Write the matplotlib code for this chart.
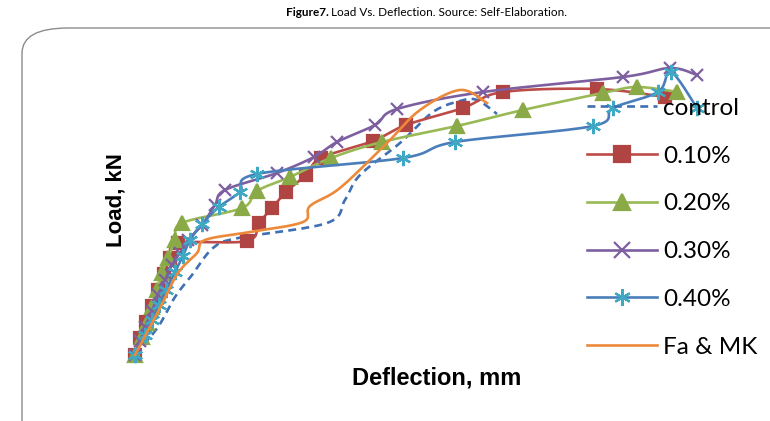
import numpy as np
import matplotlib.pyplot as plt
from matplotlib.patches import FancyBboxPatch

# deflection (mm) / load (kN)
ctrl_d = [0, 2.3, 4.0, 5.7, 7.8, 10.3, 19.2, 21.0, 22.5, 26.5, 29.8, 32.5, 34.2, 36.2]
ctrl_p = [0, 14, 29, 40, 53.5, 58.5, 66, 77.5, 90, 106, 121.5, 127, 127.5, 120.5]

p10_d = [0, 0.5, 1.1, 1.7, 2.3, 2.9, 3.5, 4.3, 11.2, 12.4, 13.7, 15.1, 17.1, 18.6, 23.8, 27.1, 32.8, 36.8, 46.2, 53.0]
p10_p = [0, 8.5, 16.5, 24.5, 32.5, 40.5, 48.5, 56, 57, 66, 73.5, 81.5, 90, 98.5, 107, 115, 123.5, 131.5, 133, 129]

p20_d = [0, 0.7, 1.2, 1.7, 2.2, 2.7, 3.3, 4.0, 4.7, 10.7, 12.2, 15.5, 19.6, 24.7, 32.2, 38.8, 46.8, 50.2, 54.2]
p20_p = [0, 9, 16, 24, 32.5, 41, 48.5, 57.5, 66, 73.5, 82, 89, 98.5, 106.5, 114.5, 122.5, 131, 134, 131.5]

p30_d = [0, 0.5, 1.0, 1.7, 2.3, 3.0, 3.7, 4.5, 5.3, 6.7, 8.0, 9.0, 14.2, 17.9, 20.2, 24.0, 26.2, 34.8, 48.8, 53.5, 56.2]
p30_p = [0, 7, 14, 22, 30, 37.5, 45, 51, 57.5, 65, 75, 82.5, 91, 99, 106.5, 115, 123, 131.5, 139, 143.5, 140]

p40_d = [0, 1.0, 1.7, 2.4, 3.1, 4.0, 4.8, 5.5, 6.7, 8.4, 10.5, 12.2, 26.8, 32.0, 45.8, 47.8, 52.3, 53.6, 56.2]
p40_p = [0, 10, 17.5, 25, 32.5, 41.5, 49.5, 57.5, 65.5, 74, 81.5, 90.5, 98.5, 106.5, 114.5, 123.5, 131.5, 141.5, 123.5]

famk_d = [0, 2.5, 4.3, 6.2, 7.0, 11.5, 16.8, 17.5, 20.5, 25.2, 28.5, 32.5, 35.2]
famk_p = [0, 23.5, 41, 51, 57.5, 61.5, 66.5, 74.5, 83.5, 106, 122.5, 132.5, 126]


def smooth(x, y, n=16):
    # Catmull-Rom through the points, like Excel's smoothed line
    x = np.asarray(x, float)
    y = np.asarray(y, float)
    px = np.concatenate([[x[0]], x, [x[-1]]])
    py = np.concatenate([[y[0]], y, [y[-1]]])
    xs, ys = [], []
    t = np.linspace(0, 1, n, endpoint=False)
    for i in range(1, len(px) - 2):
        for arr, out in ((px, xs), (py, ys)):
            p0, p1, p2, p3 = arr[i - 1], arr[i], arr[i + 1], arr[i + 2]
            out.extend(0.5 * (2 * p1 + (-p0 + p2) * t
                              + (2 * p0 - 5 * p1 + 4 * p2 - p3) * t ** 2
                              + (-p0 + 3 * p1 - 3 * p2 + p3) * t ** 3))
    xs.append(x[-1])
    ys.append(y[-1])
    return np.array(xs), np.array(ys)


fig = plt.figure(figsize=(7.7, 4.21), dpi=100)
W, H = 770, 421

box = FancyBboxPatch((22 / W, -40 / H), 800 / W, (421 - 28 + 40) / H,
                     boxstyle="round,pad=0,rounding_size=0.06",
                     transform=fig.transFigure, fc='none', ec='#8c8c8c', lw=1.0)
fig.patches.append(box)

fig.text(329 / W, 1 - 13 / H, 'Figure7.', ha='right', va='center',
         fontsize=8.5, fontweight='bold', family='Lato')
fig.text(331 / W, 1 - 13 / H, 'Load Vs. Deflection. Source: Self-Elaboration.',
         ha='left', va='center', fontsize=8.5, family='Lato')

ax = fig.add_axes([135 / W, (421 - 355) / H, 600 / W, 300 / H])
ax.set_xlim(0, 60)
ax.set_ylim(0, 150)
ax.axis('off')

lw = 1.9
series = [
    (ctrl_d, ctrl_p, 'control', '#3f70b3', '--', None, None),
    (p10_d, p10_p, '0.10%', '#bd4b48', '-', 's', '#b04442'),
    (p20_d, p20_p, '0.20%', '#98b954', '-', '^', '#8aaa48'),
    (p30_d, p30_p, '0.30%', '#7d5fa0', '-', 'x', '#7d5fa0'),
    (p40_d, p40_p, '0.40%', '#4a7ebb', '-', (6, 2, 0), '#3fa8c4'),
    (famk_d, famk_p, 'Fa & MK', '#ed8a3a', '-', None, None),
]
sizes = {'s': 9, '^': 9.5, 'x': 9}
handles = []
for d, p, lab, col, ls, mk, mcol in series:
    dash = (3, 2) if ls == '--' else (None, None)
    sx, sy = smooth(d, p)
    ax.plot(sx, sy, color=col, ls=ls, lw=lw, clip_on=False, dashes=dash)
    if mk is not None:
        ax.plot(d, p, ls='none', marker=mk, ms=sizes.get(mk, 11), color=mcol,
                mec=mcol, mew=1.6, clip_on=False)
    h, = ax.plot([], [], color=col, ls=ls, lw=lw, dashes=dash, marker=mk,
                 ms=12, mfc=mcol, mec=mcol, mew=1.6)
    handles.append(h)

fig.legend(handles=handles, labels=[s[2] for s in series],
           loc='upper left', bbox_to_anchor=(565 / W, 1 - 76 / H),
           frameon=False, handlelength=2.9, handletextpad=0.25,
           labelspacing=1.1, prop={'family': 'Lato', 'size': 17.5})

fig.text(116 / W, 1 - 200 / H, 'Load, kN', rotation=90, ha='center', va='center',
         fontsize=16, fontweight='bold', family='Liberation Sans')
fig.text(437 / W, 1 - 378 / H, 'Deflection, mm', ha='center', va='center',
         fontsize=17, fontweight='bold', family='Liberation Sans')

fig.savefig('out.png', dpi=100)
